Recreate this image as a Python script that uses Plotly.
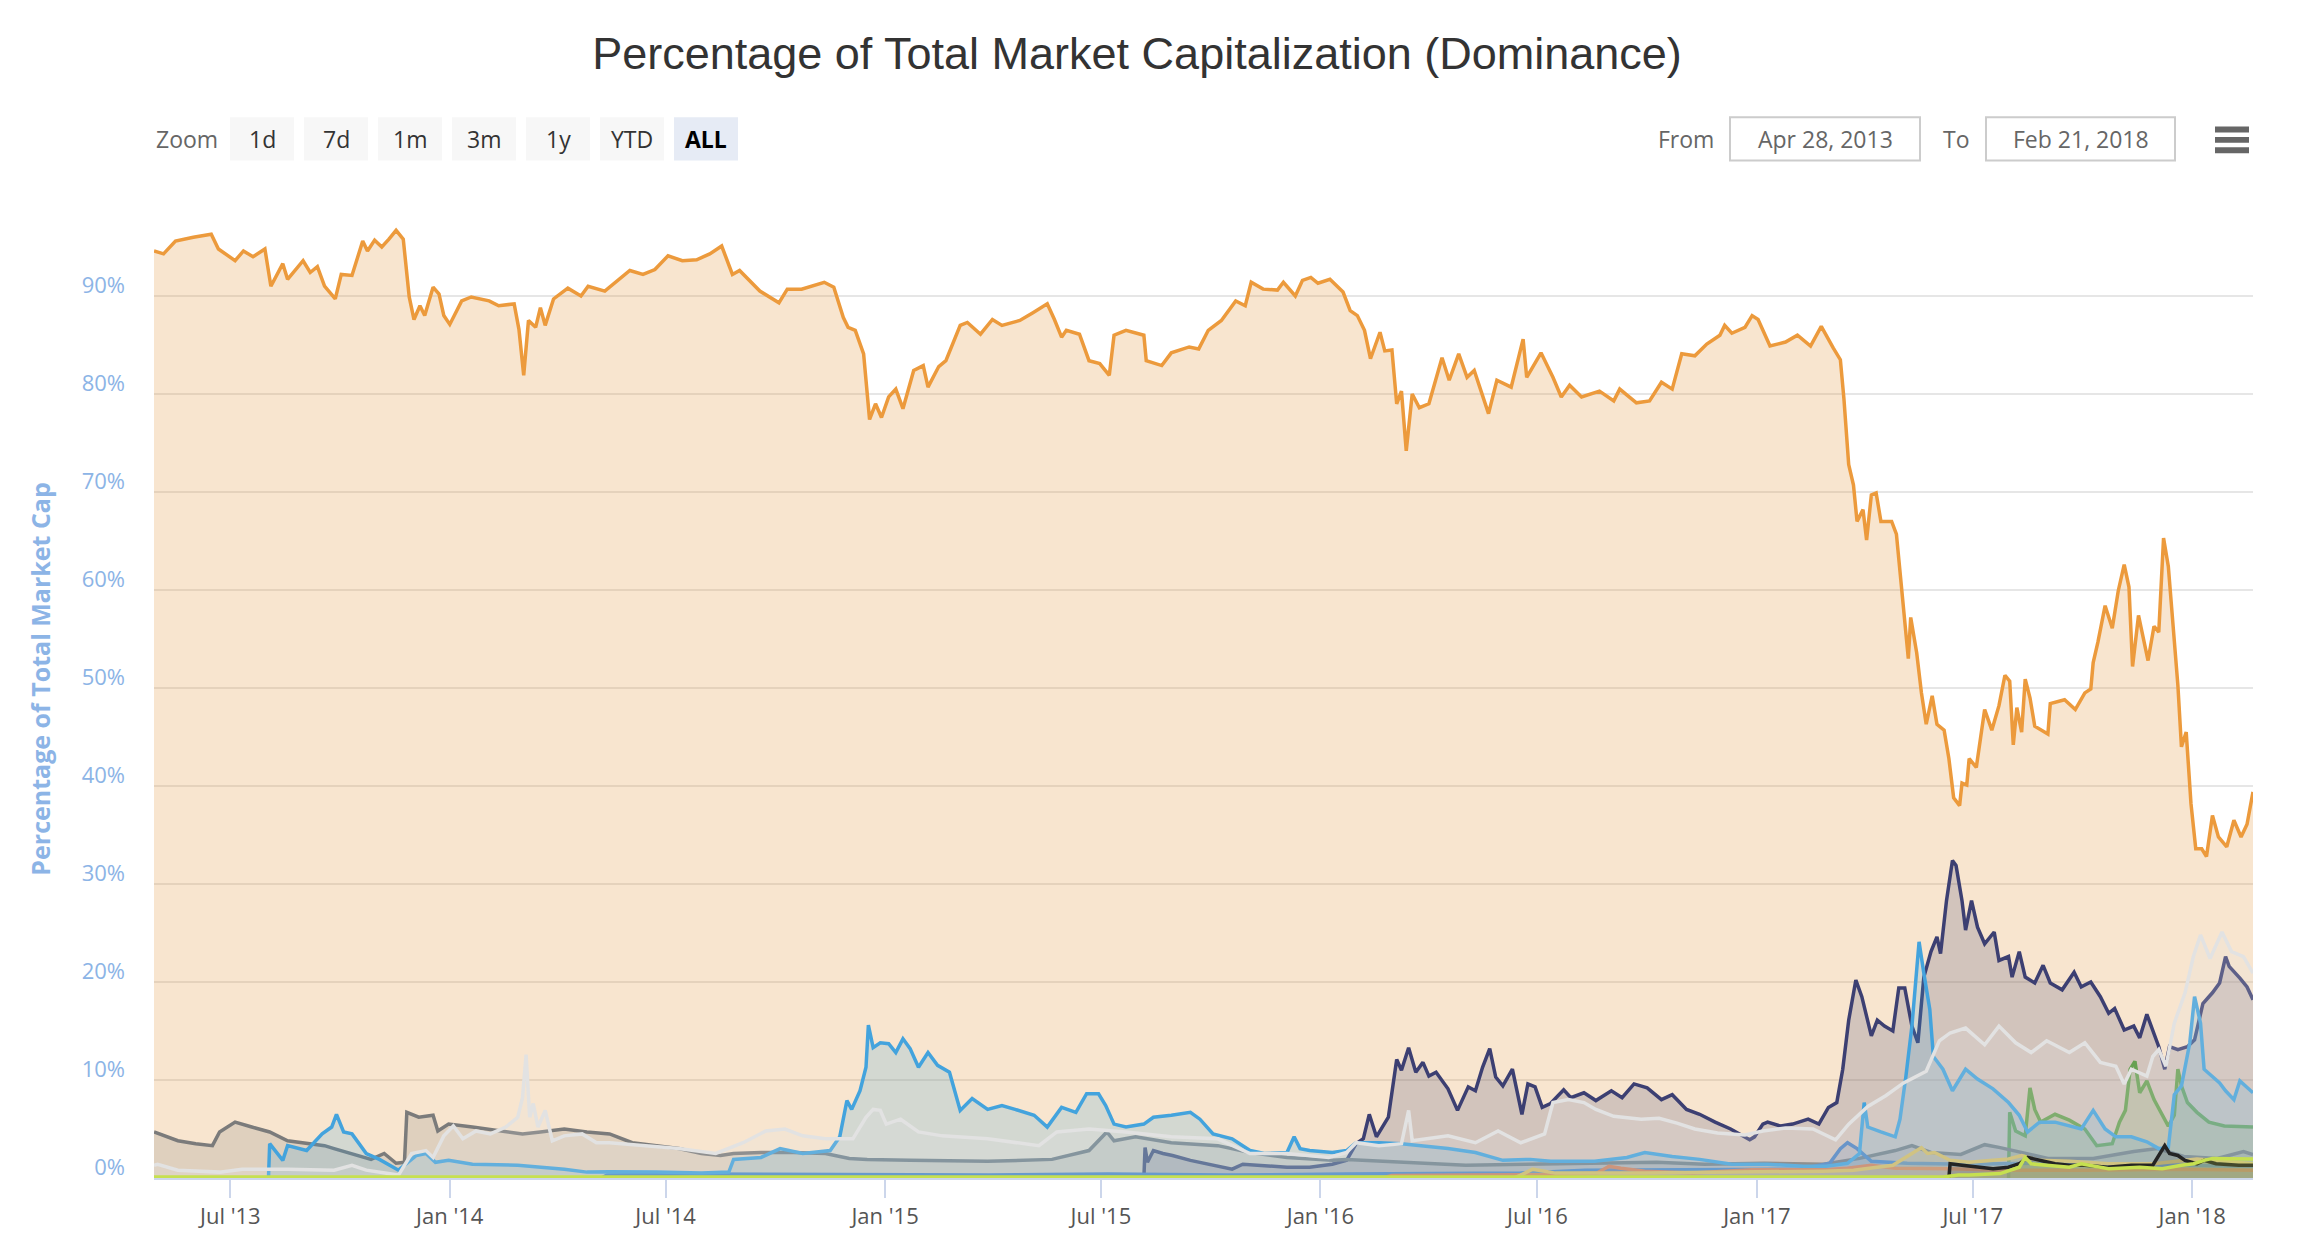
import pandas as pd
import plotly.graph_objects as go

START = pd.Timestamp("2013-04-28")
END = pd.Timestamp("2018-02-21")

# ---------------- data (days since 2013-04-28, percent of total market cap) -------------
btc_day = [0, 8, 18, 33, 48, 54, 68, 75, 83, 93, 98, 108, 112, 125, 131, 137, 143, 152, 157, 166,
           175, 179, 185, 191, 197, 203, 209, 214, 218, 223, 227, 234, 239, 243, 248, 258, 266, 281,
           289, 302, 306, 310, 314, 320, 324, 328, 335, 347, 358, 364, 378, 389, 399, 410, 420, 431,
           443, 455, 466, 476, 485, 491, 508, 524, 531, 543, 562, 570, 578, 582, 588, 595, 600, 605,
           610, 616, 622, 628, 637, 645, 649, 658, 664, 676, 682, 693, 703, 711, 726, 737, 749, 755,
           761, 765, 776, 784, 793, 801, 805, 815, 830, 832, 845, 853, 868, 876, 884, 895, 907, 915,
           920, 930, 942, 947, 957, 963, 970, 976, 986, 997, 1003, 1009, 1015, 1020, 1028, 1032, 1038,
           1042, 1046, 1050, 1055, 1061, 1069, 1080, 1086, 1094, 1101, 1107, 1119, 1126, 1138, 1148,
           1151, 1163, 1173, 1180, 1187, 1197, 1212, 1224, 1229, 1243, 1254, 1264, 1273, 1281, 1292,
           1302, 1313, 1317, 1323, 1334, 1340, 1345, 1355, 1368, 1378, 1389, 1398, 1408, 1414, 1417,
           1421, 1425, 1428, 1433, 1436, 1440, 1444, 1448, 1457, 1461, 1465, 1471, 1473, 1478, 1482,
           1486, 1491, 1495, 1501, 1505, 1509, 1514, 1516, 1520, 1522, 1528, 1535, 1541, 1547, 1552,
           1556, 1559, 1562, 1566, 1569, 1573, 1577, 1582, 1588, 1590, 1602, 1611, 1619, 1624, 1626,
           1630, 1636, 1642, 1647, 1652, 1656, 1659, 1664, 1672, 1677, 1681, 1685, 1689, 1693, 1697,
           1700, 1704, 1708, 1712, 1717, 1721, 1726, 1731, 1738, 1744, 1750, 1755, 1760]
btc_pct = [94.6, 94.3, 95.6, 96.0, 96.3, 94.8, 93.6, 94.6, 94.0, 94.8, 91.0, 93.3, 91.7, 93.6, 92.4,
           93.0, 91.0, 89.7, 92.2, 92.1, 95.6, 94.6, 95.7, 95.0, 95.8, 96.7, 95.8, 89.9, 87.6, 89.0,
           88.0, 90.9, 90.2, 88.0, 87.1, 89.5, 89.9, 89.5, 89.0, 89.2, 86.6, 81.9, 87.5, 86.8, 88.8,
           87.0, 89.7, 90.8, 90.0, 91.0, 90.5, 91.6, 92.6, 92.2, 92.7, 94.1, 93.6, 93.7, 94.3, 95.1,
           92.2, 92.6, 90.5, 89.3, 90.7, 90.7, 91.4, 90.9, 87.8, 86.8, 86.5, 84.1, 77.4, 79.0, 77.6,
           79.7, 80.5, 78.5, 82.4, 82.9, 80.7, 82.8, 83.4, 87.0, 87.3, 86.1, 87.6, 87.0, 87.5, 88.3,
           89.2, 87.6, 85.8, 86.5, 86.1, 83.4, 83.1, 81.9, 86.0, 86.5, 86.0, 83.4, 82.9, 84.2, 84.8,
           84.6, 86.5, 87.5, 89.5, 89.0, 91.4, 90.7, 90.6, 91.4, 90.0, 91.6, 91.9, 91.3, 91.7, 90.4,
           88.5, 88.0, 86.5, 83.6, 86.3, 84.4, 84.5, 79.0, 80.3, 74.2, 80.0, 78.6, 79.0, 83.7, 81.4,
           84.1, 81.7, 82.4, 78.0, 81.4, 80.7, 85.6, 81.7, 84.2, 81.7, 79.7, 80.9, 79.7, 80.3, 79.3,
           80.5, 79.1, 79.3, 81.2, 80.5, 84.1, 83.9, 85.1, 86.0, 87.0, 86.2, 86.8, 88.0, 87.6, 84.9,
           85.3, 86.0, 84.9, 86.9, 84.7, 83.5, 79.5, 72.8, 70.7, 67.0, 68.2, 65.1, 69.7, 69.9, 67.0,
           67.0, 65.7, 60.3, 53.0, 57.2, 53.6, 49.5, 46.3, 49.2, 46.3, 45.7, 42.8, 38.8, 38.0, 40.3,
           40.1, 42.8, 41.9, 47.8, 45.7, 48.2, 51.3, 50.7, 44.2, 48.0, 45.5, 50.9, 49.0, 46.1, 45.7,
           45.3, 48.4, 48.8, 47.8, 49.5, 49.9, 52.6, 54.7, 58.4, 56.1, 59.9, 62.6, 60.3, 52.2, 57.4,
           52.8, 56.3, 55.7, 65.3, 62.4, 55.9, 50.3, 44.0, 45.5, 38.2, 33.6, 33.6, 32.8, 37.0, 34.8,
           33.8, 36.5, 34.8, 36.1, 39.4]

eth_day = [830, 831, 833, 838, 846, 854, 869, 884, 904, 913, 923, 950, 969, 988, 1000, 1008, 1014,
           1019, 1025, 1035, 1042, 1046, 1052, 1058, 1064, 1069, 1075, 1085, 1093, 1102, 1108, 1114,
           1120, 1125, 1131, 1139, 1147, 1152, 1158, 1164, 1171, 1182, 1188, 1199, 1209, 1222, 1231,
           1241, 1252, 1264, 1273, 1285, 1296, 1309, 1322, 1338, 1342, 1349, 1353, 1364, 1374, 1387,
           1396, 1404, 1411, 1416, 1421, 1427, 1432, 1440, 1445, 1451, 1458, 1463, 1468, 1474, 1479,
           1484, 1490, 1495, 1498, 1503, 1508, 1511, 1516, 1519, 1524, 1529, 1535, 1543, 1547, 1555,
           1558, 1564, 1569, 1577, 1584, 1590, 1600, 1610, 1616, 1624, 1632, 1639, 1644, 1652, 1660,
           1665, 1671, 1681, 1686, 1690, 1697, 1705, 1711, 1718, 1726, 1732, 1737, 1740, 1749, 1755,
           1760]
eth_pct = [0.0, 3.1, 1.6, 2.8, 2.5, 2.3, 1.8, 1.4, 0.9, 1.4, 1.3, 1.1, 1.1, 1.4, 1.8, 3.5, 4.0,
           6.5, 4.2, 6.2, 12.1, 11.0, 13.3, 10.8, 11.8, 10.4, 10.8, 9.1, 6.9, 9.3, 8.9, 11.3, 13.2,
           10.3, 9.4, 11.1, 6.5, 9.6, 9.3, 7.2, 7.6, 9.0, 8.2, 8.7, 7.9, 8.9, 8.2, 9.6, 9.2, 8.0,
           8.5, 7.0, 6.5, 5.7, 5.0, 3.9, 4.2, 5.5, 5.7, 5.3, 5.5, 6.0, 5.5, 7.2, 7.7, 11.1, 16.1,
           20.2, 18.5, 14.5, 16.1, 15.5, 15.0, 19.4, 19.4, 15.5, 13.8, 20.5, 23.1, 24.6, 22.9, 28.3,
           32.4, 31.9, 28.3, 25.3, 28.3, 25.6, 23.9, 25.1, 22.2, 22.6, 20.5, 23.1, 20.5, 19.9, 21.7,
           19.9, 19.2, 21.0, 19.5, 20.0, 18.5, 16.8, 17.3, 15.1, 15.5, 14.3, 16.7, 13.4, 11.1, 13.4,
           13.1, 13.4, 14.1, 17.8, 18.9, 19.9, 22.6, 21.6, 20.4, 19.5, 18.2]

bch_day = [1555, 1556, 1561, 1569, 1573, 1577, 1582, 1594, 1606, 1619, 1629, 1642, 1648, 1653, 1657,
           1661, 1665, 1671, 1677, 1684, 1689, 1694, 1697, 1700, 1705, 1713, 1723, 1736, 1749, 1760]
bch_pct = [0.0, 6.7, 4.8, 4.3, 9.2, 7.0, 5.7, 6.5, 5.9, 5.0, 3.3, 3.5, 5.7, 6.9, 11.1, 11.9, 8.7,
           9.9, 8.0, 6.4, 5.3, 6.4, 11.1, 9.4, 7.7, 6.7, 5.7, 5.3, 5.2, 5.2]

ltc_day = [0, 20, 35, 49, 55, 68, 82, 97, 112, 128, 143, 151, 166, 182, 193, 203, 210, 212, 222, 234,
           238, 247, 267, 290, 309, 324, 344, 363, 382, 401, 421, 440, 459, 475, 486, 509, 536, 563,
           583, 598, 634, 699, 753, 784, 799, 805, 823, 853, 892, 919, 950, 988, 1000, 1050, 1100,
           1150, 1200, 1260, 1300, 1350, 1400, 1430, 1460, 1474, 1490, 1515, 1535, 1548, 1588, 1626,
           1660, 1680, 1702, 1730, 1752, 1760]
ltc_pct = [4.7, 3.8, 3.5, 3.3, 4.7, 5.7, 5.2, 4.7, 3.8, 3.5, 3.3, 3.0, 2.5, 1.9, 2.5, 1.5, 1.6, 6.7,
           6.2, 6.4, 4.8, 5.5, 5.2, 4.8, 4.5, 4.7, 5.0, 4.7, 4.5, 3.6, 3.3, 3.0, 2.5, 2.3, 2.5, 2.6,
           2.6, 2.5, 2.0, 1.9, 1.8, 1.7, 1.9, 2.8, 4.7, 3.8, 4.2, 3.6, 3.3, 2.6, 2.1, 1.8, 1.9, 1.6,
           1.3, 1.4, 1.5, 1.6, 1.4, 1.5, 1.4, 2.0, 2.8, 3.3, 2.6, 2.4, 3.4, 3.1, 2.0, 2.0, 2.7, 3.0,
           2.2, 2.0, 2.7, 2.4]

dash_day = [375, 380, 450, 600, 700, 800, 900, 1000, 1100, 1146, 1200, 1300, 1380, 1405, 1414, 1420,
            1428, 1440, 1470, 1520, 1580, 1640, 1700, 1760]
dash_pct = [0.0, 0.3, 0.4, 0.3, 0.3, 0.4, 0.3, 0.4, 0.5, 0.5, 0.8, 0.85, 0.9, 1.5, 3.0, 3.6, 3.0,
            1.7, 1.5, 1.4, 1.5, 1.4, 1.3, 1.2]

xmr_day = [1030, 1038, 1100, 1170, 1210, 1220, 1230, 1250, 1290, 1340, 1400, 1420, 1440, 1460, 1506,
           1550, 1620, 1700, 1760]
xmr_pct = [0.0, 0.25, 0.3, 0.35, 0.5, 1.2, 1.0, 0.7, 0.5, 0.85, 0.85, 1.0, 1.3, 1.0, 0.95, 0.8, 0.8,
           0.9, 0.8]

nem_day = [1140, 1146, 1156, 1165, 1175, 1250, 1350, 1400, 1425, 1458, 1474, 1482, 1487, 1493, 1506,
           1522, 1542, 1555, 1566, 1580, 1606, 1639, 1677, 1713, 1760]
nem_pct = [0.0, 0.3, 0.9, 0.7, 0.5, 0.5, 0.6, 0.7, 0.8, 1.3, 2.5, 3.1, 2.5, 2.6, 1.8, 1.6, 1.8, 1.95,
           2.3, 1.8, 1.7, 1.45, 1.45, 1.95, 1.45]

xrp_day = [96, 97, 108, 112, 128, 141, 149, 153, 159, 166, 178, 189, 205, 220, 228, 236, 247, 267,
           305, 344, 363, 382, 421, 459, 482, 486, 509, 525, 544, 567, 575, 581, 585, 592, 597, 599,
           603, 609, 616, 622, 628, 634, 641, 649, 657, 667, 676, 686, 699, 711, 722, 738, 749, 761,
           773, 782, 792, 798, 805, 815, 830, 838, 853, 869, 877, 888, 904, 919, 931, 950, 956, 961,
           969, 988, 1000, 1008, 1027, 1046, 1085, 1108, 1131, 1154, 1171, 1208, 1235, 1250, 1273,
           1296, 1323, 1353, 1383, 1402, 1420, 1430, 1434, 1437, 1448, 1460, 1464, 1469, 1474, 1477,
           1480, 1484, 1489, 1492, 1500, 1508, 1519, 1529, 1542, 1555, 1564, 1571, 1581, 1594, 1606,
           1616, 1626, 1636, 1645, 1658, 1671, 1681, 1689, 1694, 1700, 1707, 1711, 1716, 1719, 1726,
           1732, 1737, 1744, 1749, 1760]
xrp_pct = [0.0, 3.5, 1.8, 3.3, 2.8, 4.5, 5.2, 6.5, 4.7, 4.5, 2.5, 1.9, 0.8, 2.3, 2.5, 1.6, 1.8, 1.4,
           1.3, 0.9, 0.6, 0.65, 0.6, 0.5, 0.6, 1.9, 2.1, 3.0, 2.5, 2.8, 4.2, 7.9, 7.0, 8.9, 11.3,
           15.6, 13.3, 13.8, 13.7, 12.8, 14.2, 13.2, 11.3, 12.8, 11.5, 10.8, 6.9, 8.1, 7.0, 7.4, 7.0,
           6.4, 5.2, 7.2, 6.7, 8.6, 8.6, 7.4, 5.5, 5.2, 5.5, 6.2, 6.4, 6.7, 6.0, 4.5, 4.0, 2.8, 2.5,
           2.6, 4.2, 3.0, 2.8, 2.6, 2.8, 3.6, 3.6, 3.5, 3.0, 2.6, 1.8, 1.9, 1.7, 1.7, 2.1, 2.6, 2.2,
           1.9, 1.4, 1.4, 1.2, 1.2, 1.5, 2.5, 7.7, 5.2, 4.7, 4.2, 6.0, 10.4, 15.5, 20.2, 24.1, 20.9,
           17.2, 12.4, 11.1, 8.9, 11.1, 10.1, 9.1, 7.7, 6.4, 4.7, 5.7, 5.7, 5.3, 5.0, 6.9, 5.0, 4.2,
           4.2, 3.7, 3.0, 3.1, 8.5, 9.4, 13.8, 18.5, 15.8, 11.1, 10.4, 9.7, 8.9, 8.0, 9.9, 8.7]

oth_day = [0, 3, 20, 55, 74, 112, 151, 166, 178, 205, 216, 228, 234, 243, 251, 259, 270, 282, 295,
           305, 309, 312, 315, 318, 322, 328, 334, 344, 359, 371, 382, 409, 440, 471, 482, 494, 513,
           529, 544, 563, 586, 597, 603, 609, 614, 626, 641, 661, 699, 742, 757, 784, 815, 853, 892,
           904, 919, 950, 969, 985, 1000, 1008, 1027, 1046, 1052, 1055, 1085, 1108, 1127, 1146, 1166,
           1173, 1186, 1199, 1209, 1224, 1247, 1262, 1277, 1292, 1311, 1334, 1349, 1368, 1391, 1410,
           1421, 1437, 1452, 1467, 1486, 1497, 1506, 1519, 1535, 1547, 1561, 1574, 1587, 1606, 1619,
           1632, 1645, 1652, 1658, 1671, 1676, 1681, 1687, 1694, 1703, 1710, 1716, 1724, 1734, 1742,
           1752, 1760]
oth_pct = [1.3, 1.4, 0.8, 0.6, 0.9, 0.9, 0.8, 1.3, 0.8, 0.3, 2.5, 2.8, 2.1, 4.3, 5.3, 4.0, 4.8, 4.5,
           5.2, 6.2, 8.2, 12.6, 6.2, 7.6, 5.2, 6.9, 3.8, 4.3, 4.5, 3.6, 3.6, 3.3, 3.0, 2.5, 3.0, 3.6,
           4.8, 5.0, 4.3, 4.0, 4.0, 6.2, 7.0, 6.9, 5.5, 6.0, 4.7, 4.3, 4.0, 3.3, 4.7, 5.0, 4.7, 4.2,
           4.0, 3.3, 2.5, 2.5, 2.3, 2.1, 2.6, 3.6, 3.3, 3.5, 6.9, 3.8, 4.3, 3.6, 4.8, 3.6, 4.5, 7.7,
           8.0, 7.7, 7.0, 6.3, 6.0, 6.1, 5.6, 5.0, 4.6, 4.4, 4.8, 5.1, 5.0, 3.9, 5.5, 7.3, 8.4, 9.7,
           10.9, 14.0, 14.8, 15.3, 13.6, 15.5, 13.8, 12.8, 14.0, 12.8, 13.8, 11.8, 11.4, 9.6, 11.1,
           10.4, 12.4, 13.1, 11.4, 15.8, 18.9, 22.6, 24.8, 22.4, 25.1, 23.1, 22.6, 20.9]

iota_day = [1505, 1506, 1516, 1529, 1542, 1555, 1564, 1571, 1581, 1594, 1606, 1619, 1638, 1658, 1676,
            1681, 1686, 1690, 1697, 1703, 1713, 1719, 1729, 1748, 1760]
iota_pct = [0.0, 1.45, 1.3, 1.1, 0.95, 1.1, 1.45, 2.1, 1.8, 1.45, 1.3, 1.3, 1.1, 1.3, 1.3, 2.3, 3.3,
            2.5, 2.3, 1.8, 1.45, 1.8, 1.45, 1.3, 1.3]

ada_day = [0, 1500, 1513, 1522, 1548, 1564, 1569, 1574, 1587, 1606, 1616, 1639, 1665, 1684, 1700,
           1710, 1719, 1726, 1760]
ada_pct = [0.1, 0.1, 0.3, 0.3, 0.45, 1.1, 2.1, 1.45, 1.3, 1.1, 1.45, 0.95, 1.1, 0.95, 1.3, 1.45,
           1.8, 2.0, 1.95]

x_tick_dates = ["2013-07-01", "2014-01-01", "2014-07-01", "2015-01-01", "2015-07-01", "2016-01-01",
                "2016-07-01", "2017-01-01", "2017-07-01", "2018-01-01"]
x_tick_text = ["Jul '13", "Jan '14", "Jul '14", "Jan '15", "Jul '15", "Jan '16", "Jul '16",
               "Jan '17", "Jul '17", "Jan '18"]
y_tick_vals = [0, 10, 20, 30, 40, 50, 60, 70, 80, 90, 100]
y_tick_text = ["0%", "10%", "20%", "30%", "40%", "50%", "60%", "70%", "80%", "90%", ""]

zoom_buttons = ["1d", "7d", "1m", "3m", "1y", "YTD", "ALL"]

# ---------------- styles ----------------
series = [
    ("Bitcoin", btc_day, btc_pct, "#ec9a3c", "rgba(227,151,63,0.25)"),
    ("Ethereum", eth_day, eth_pct, "#3c3f72", "rgba(60,63,114,0.20)"),
    ("Bitcoin Cash", bch_day, bch_pct, "#67a152", "rgba(103,161,82,0.20)"),
    ("Litecoin", ltc_day, ltc_pct, "#7b7b7b", "rgba(123,123,123,0.20)"),
    ("Dash", dash_day, dash_pct, "#4b82c3", "rgba(75,130,195,0.20)"),
    ("Monero", xmr_day, xmr_pct, "#ec7a45", "rgba(236,122,69,0.20)"),
    ("NEM", nem_day, nem_pct, "#f0c24e", "rgba(240,194,78,0.20)"),
    ("Ripple", xrp_day, xrp_pct, "#43a3dd", "rgba(67,163,221,0.20)"),
    ("Others", oth_day, oth_pct, "#e2e2e2", "rgba(226,226,226,0.20)"),
    ("IOTA", iota_day, iota_pct, "#242424", "rgba(36,36,36,0.15)"),
    ("Cardano", ada_day, ada_pct, "#c6e050", "rgba(198,224,80,0.20)"),
]

# The page body has an 8px margin; layout below is expressed in page pixels.
BODY = 8
PAGE_W, PAGE_H = 2304, 1250
W, H = PAGE_W - 2 * BODY, PAGE_H - 2 * BODY
PLOT_L, PLOT_R, PLOT_T, PLOT_B = 154, 2253, 198, 1193      # page pixels
ML, MT = PLOT_L - BODY, PLOT_T - BODY
MR, MB = (BODY + W) - PLOT_R, (BODY + H) - PLOT_B
PW, PH = PLOT_R - PLOT_L, PLOT_B - PLOT_T


def px(xp):
    return (xp - PLOT_L) / PW


def py(yp):
    return (PLOT_B - yp) / PH


fig = go.Figure()
for name, days, vals, lc, fc in series:
    dates = START + pd.to_timedelta(days, unit="D")
    fig.add_trace(go.Scatter(
        x=dates, y=vals, name=name, mode="lines",
        line=dict(color=lc, width=3.5),
        fill="tozeroy", fillcolor=fc,
        hovertemplate="%{x|%b %d, %Y}<br>" + name + ": %{y:.2f}%<extra></extra>",
    ))

AXIS_FONT = "Open Sans, DejaVu Sans, sans-serif"

fig.update_layout(
    width=W, height=H,
    margin=dict(l=ML, r=MR, t=MT, b=MB, pad=0),
    paper_bgcolor="white", plot_bgcolor="white",
    showlegend=False,
    title=dict(text="Percentage of Total Market Capitalization (Dominance)",
               font=dict(family="Liberation Sans, Arial, sans-serif", size=45, color="#333333"),
               x=(1137 - BODY) / W, xref="container", xanchor="center",
               y=1 - (53 - BODY) / H, yref="container", yanchor="middle"),
    xaxis=dict(type="date", range=[START, END],
               tickvals=x_tick_dates, ticktext=x_tick_text,
               showgrid=False, zeroline=False,
               showline=True, linecolor="#ccd6eb", linewidth=2,
               ticks="outside", ticklen=18, tickwidth=2, tickcolor="#ccd6eb",
               tickfont=dict(family=AXIS_FONT, size=22, color="#555555")),
    yaxis=dict(range=[0, 100], tickvals=y_tick_vals, ticktext=y_tick_text,
               showgrid=True, gridcolor="#e6e6e6", gridwidth=2, zeroline=False,
               showline=False, ticks="",
               ticklabelshift=-11, ticklabelstandoff=28,
               tickfont=dict(family=AXIS_FONT, size=22, color="#8cb4e6")),
)

# y-axis title
fig.add_annotation(text="<b>Percentage of Total Market Cap</b>", textangle=-90,
                   xref="paper", yref="paper", x=px(40), y=py(687),
                   xanchor="center", yanchor="middle", showarrow=False,
                   font=dict(family=AXIS_FONT, size=25, color="#8cb4e6"))

# range selector (drawn)
SEL_FONT = "Open Sans, DejaVu Sans, sans-serif"
btn_y0, btn_y1 = 116, 160
fig.add_annotation(text="Zoom", xref="paper", yref="paper", x=px(154), y=py(138),
                   xanchor="left", yanchor="middle", showarrow=False,
                   font=dict(family=SEL_FONT, size=23, color="#666666"))
btn_x = 230
for lab in zoom_buttons:
    active = lab == "ALL"
    fig.add_shape(type="rect", xref="paper", yref="paper",
                  x0=px(btn_x), x1=px(btn_x + 64), y0=py(btn_y1), y1=py(btn_y0),
                  fillcolor="#e6ebf5" if active else "#f7f7f7", line=dict(width=0), layer="above")
    fig.add_annotation(text="<b>ALL</b>" if active else lab, xref="paper", yref="paper",
                       x=px(btn_x + 32), y=py(138), xanchor="center", yanchor="middle",
                       showarrow=False,
                       font=dict(family=SEL_FONT, size=23, color="#000000" if active else "#333333"))
    btn_x += 74

# From / To inputs
fig.add_annotation(text="From", xref="paper", yref="paper", x=px(1716), y=py(138),
                   xanchor="right", yanchor="middle", showarrow=False,
                   font=dict(family=SEL_FONT, size=23, color="#666666"))
fig.add_annotation(text="To", xref="paper", yref="paper", x=px(1972), y=py(138),
                   xanchor="right", yanchor="middle", showarrow=False,
                   font=dict(family=SEL_FONT, size=23, color="#666666"))
for x0, x1, txt in [(1730, 1920, START.strftime("%b %d, %Y")), (1986, 2175, END.strftime("%b %d, %Y"))]:
    fig.add_shape(type="rect", xref="paper", yref="paper", x0=px(x0), x1=px(x1),
                  y0=py(btn_y1), y1=py(btn_y0), fillcolor="white",
                  line=dict(color="#cccccc", width=2), layer="above")
    fig.add_annotation(text=txt, xref="paper", yref="paper", x=px((x0 + x1) / 2), y=py(138),
                       xanchor="center", yanchor="middle", showarrow=False,
                       font=dict(family=SEL_FONT, size=23, color="#666666"))

# context menu icon
for yc in (128.5, 139, 149.5):
    fig.add_shape(type="rect", xref="paper", yref="paper", x0=px(2215), x1=px(2249),
                  y0=py(yc + 3), y1=py(yc - 3), fillcolor="#666666", line=dict(width=0),
                  layer="above")

fig.write_html("out.html")
